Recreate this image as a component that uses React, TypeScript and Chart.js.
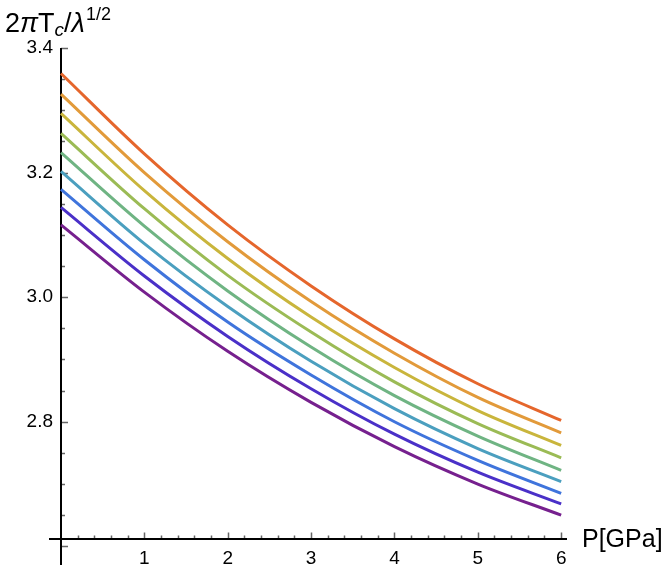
import React, { useEffect, useRef } from "react";
import { Chart, registerables } from "chart.js";

Chart.register(...registerables);

const pressure = [0, 1, 2, 3, 4, 5, 6];
const curve1 = [3.116, 3.008, 2.913, 2.831, 2.76, 2.7, 2.65];
const curve2 = [3.144, 3.034, 2.937, 2.853, 2.78, 2.719, 2.668];
const curve3 = [3.173, 3.06, 2.96, 2.875, 2.8, 2.738, 2.685];
const curve4 = [3.202, 3.086, 2.985, 2.897, 2.821, 2.757, 2.704];
const curve5 = [3.232, 3.114, 3.01, 2.92, 2.842, 2.777, 2.722];
const curve6 = [3.263, 3.142, 3.035, 2.944, 2.864, 2.797, 2.742];
const curve7 = [3.295, 3.171, 3.062, 2.968, 2.887, 2.818, 2.762];
const curve8 = [3.326, 3.2, 3.089, 2.993, 2.91, 2.839, 2.782];
const curve9 = [3.359, 3.23, 3.116, 3.018, 2.933, 2.861, 2.802];
const curves = [curve1, curve2, curve3, curve4, curve5, curve6, curve7, curve8, curve9];
const curveColors = [
  "#76208e",
  "#4a30c8",
  "#3f74dc",
  "#4b9fbf",
  "#6fb483",
  "#9bbb55",
  "#c9b53c",
  "#e29a3a",
  "#e5662c",
];

const xTickValues = [1, 2, 3, 4, 5, 6];
const xTickLabels = ["1", "2", "3", "4", "5", "6"];
const yTickValues = [2.6, 2.8, 3.0, 3.2, 3.4];
const yTickLabels = ["", "2.8", "3.0", "3.2", "3.4"];
const xMinorStep = 0.2;
const yMinorStep = 0.05;
const axisCrossY = 2.611;

const FONT = "'Liberation Sans', Arial, sans-serif";

const axesPlugin = {
  id: "mmaAxes",
  beforeDatasetsDraw(chart: any) {
    const { ctx } = chart;
    const xs = chart.scales.x;
    const ys = chart.scales.y;
    const x0 = xs.getPixelForValue(0);
    const yA = ys.getPixelForValue(axisCrossY);
    ctx.save();
    ctx.strokeStyle = "#666";
    ctx.lineWidth = 1.5;
    ctx.beginPath();
    for (let i = 1; i * xMinorStep <= 6.001; i++) {
      const v = i * xMinorStep;
      if (Math.abs(v - Math.round(v)) < 1e-6) continue;
      const px = Math.round(xs.getPixelForValue(v)) + 0.5;
      ctx.moveTo(px, yA);
      ctx.lineTo(px, yA - 4);
    }
    for (let i = 0; 2.6 + i * yMinorStep <= 3.4001; i++) {
      const v = 2.6 + i * yMinorStep;
      if (yTickValues.some((t) => Math.abs(t - v) < 1e-6)) continue;
      const py = Math.round(ys.getPixelForValue(v)) + 0.5;
      ctx.moveTo(x0, py);
      ctx.lineTo(x0 + 4, py);
    }
    ctx.stroke();
    ctx.beginPath();
    xTickValues.forEach((v) => {
      const px = Math.round(xs.getPixelForValue(v)) + 0.5;
      ctx.moveTo(px, yA);
      ctx.lineTo(px, yA - 7);
    });
    yTickValues.forEach((v) => {
      const py = Math.round(ys.getPixelForValue(v)) + 0.5;
      ctx.moveTo(x0, py);
      ctx.lineTo(x0 + 7, py);
    });
    ctx.stroke();
    ctx.strokeStyle = "#000";
    ctx.lineWidth = 2;
    ctx.beginPath();
    ctx.moveTo(xs.left, Math.round(yA));
    ctx.lineTo(xs.right, Math.round(yA));
    ctx.moveTo(Math.round(x0), ys.top);
    ctx.lineTo(Math.round(x0), ys.bottom);
    ctx.stroke();
    ctx.fillStyle = "#000";
    ctx.font = `19px ${FONT}`;
    ctx.textAlign = "center";
    ctx.textBaseline = "middle";
    xTickValues.forEach((v, i) => {
      ctx.fillText(xTickLabels[i], xs.getPixelForValue(v), yA + 19);
    });
    ctx.textAlign = "right";
    yTickValues.forEach((v, i) => {
      if (yTickLabels[i]) ctx.fillText(yTickLabels[i], x0 - 8, ys.getPixelForValue(v));
    });
    ctx.restore();
  },
  afterDraw(chart: any) {
    const { ctx } = chart;
    const ys = chart.scales.y;
    ctx.save();
    ctx.fillStyle = "#000";
    ctx.textAlign = "left";
    ctx.textBaseline = "alphabetic";
    const big = `27px ${FONT}`;
    const bigIt = `italic 27px ${FONT}`;
    const small = `18px ${FONT}`;
    const smallIt = `italic 19px ${FONT}`;
    let cx = 5;
    const base = 32;
    const put = (t: string, font: string, dy: number) => {
      ctx.font = font;
      ctx.fillText(t, cx, base + dy);
      cx += ctx.measureText(t).width;
    };
    put("2", big, 0);
    put("π", bigIt, 0);
    put("T", big, 0);
    put("c", smallIt, 4);
    put("/", big, 0);
    put("λ", bigIt, 0);
    cx += 1;
    put("1/2", small, -12);
    ctx.font = `25px ${FONT}`;
    ctx.textBaseline = "middle";
    ctx.fillText("P[GPa]", 582, ys.getPixelForValue(axisCrossY) + 1);
    ctx.restore();
  },
};

export default function App() {
  const ref = useRef<HTMLCanvasElement>(null);
  useEffect(() => {
    if (!ref.current) return;
    const chart = new Chart(ref.current, {
      type: "line",
      data: {
        datasets: curves.map((c, i) => ({
          data: pressure.map((p, j) => ({ x: p, y: c[j] })),
          borderColor: curveColors[i],
          borderWidth: 3,
          pointRadius: 0,
          fill: false,
          cubicInterpolationMode: "monotone" as const,
        })),
      },
      options: {
        responsive: false,
        animation: false,
        devicePixelRatio: 1,
        layout: { padding: { left: 49, right: 97, top: 48, bottom: 5 } },
        plugins: { legend: { display: false }, tooltip: { enabled: false } },
        scales: {
          x: { type: "linear", min: -0.144, max: 6.07, display: false },
          y: { type: "linear", min: 2.57, max: 3.4, display: false },
        },
      },
      plugins: [axesPlugin],
    });
    return () => chart.destroy();
  }, []);
  return (
    <div style={{ position: "fixed", left: 0, top: 0, width: 664, height: 570, background: "#fff" }}>
      <canvas ref={ref} width={664} height={570} />
    </div>
  );
}
